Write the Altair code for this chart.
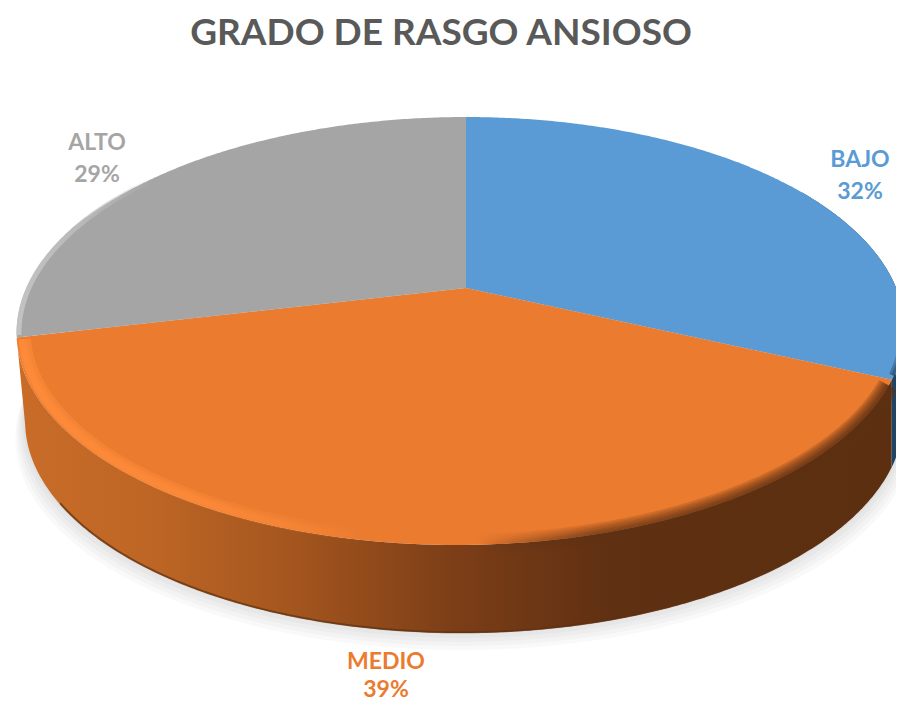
import math
import altair as alt
import pandas as pd

# ---- data
categories = ["BAJO", "MEDIO", "ALTO"]
values = [32, 39, 29]
percent_labels = ["32%", "39%", "29%"]
top_colors = ["#5b9bd5", "#eb7b2f", "#a5a5a5"]
label_colors = ["#5b9bd5", "#eb7b2f", "#a5a5a5"]
label_x = [860, 386, 97]
label_y1 = [160, 662, 143]
label_y2 = [192, 690, 175]

TOP = 70
CX, K = 466, 433
APEX_Y = 288
A, B, C = -141.3, 284, 0.2196
DEPTH, BASE_K = 88, 0.99

spans = []
acc = 0
total = sum(values)
for v in values:
    spans.append((acc / total * 360, (acc + v) / total * 360))
    acc += v


def pt(deg, s=1.0, base=False, dy=0, grow=1.0):
    t = math.radians(deg)
    X, Y = math.sin(t) * s, math.cos(t) * s
    w = C * Y + 1
    k = K * (BASE_K if base else 1) * grow
    xc = CX - 4.5 * (1 - Y) + (4 if base else 0)
    return (xc + k * X / w, (A * Y + B) / w + (DEPTH if base else 0) + dy)


def arc(a, b, **kw):
    n = max(2, int(abs(b - a) * 2))
    return [pt(a + (b - a) * i / n, **kw) for i in range(n + 1)]


def frame(pts):
    return pd.DataFrame({"x": [p[0] for p in pts], "y": [p[1] for p in pts], "i": range(len(pts))})


xs = alt.X("x:Q", scale=alt.Scale(domain=[8, 896], nice=False, zero=False), axis=None)
ys = alt.Y("y:Q", scale=alt.Scale(domain=[702, TOP], nice=False, zero=False), axis=None)


def shape(pts, **mark):
    mark.setdefault("strokeWidth", 0)
    return alt.Chart(frame(pts)).mark_line(interpolate="linear", **mark).encode(
        x=xs, y=ys, order="i:Q")


def grad(stops, vertical=False):
    return alt.LinearGradient(
        gradient="linear",
        stops=[alt.GradientStop(color=c, offset=o) for o, c in stops],
        x1=0, y1=0, x2=0 if vertical else 1, y2=1 if vertical else 0,
    )


def text(t, x, y, color, size):
    return alt.Chart(pd.DataFrame({"t": [t]})).mark_text(
        font="Lato", fontWeight="bold", fontSize=size, color=color, baseline="middle", align="center"
    ).encode(text="t:N", x=alt.value(x - 8), y=alt.value(y - TOP))


layers = []

# soft shadow under the disc
for d in (4, 8, 12, 16, 20):
    layers.append(shape(arc(0, 360, base=True, dy=d - 3, grow=1 + d / 900), fill="#000000", opacity=0.024))

# blue wall seen at the right edge
b0, b1 = spans[0]
layers.append(shape(arc(b1, 60) + arc(60, b1, base=True), fill="#1f4464"))

# orange wall
m0, m1 = spans[1]
wall = grad([(0, "#c96c28"), (.15, "#be6625"), (.32, "#a3551e"), (.5, "#7c3e17"), (.68, "#5f3012"), (1, "#5c2f11")])
layers.append(shape(arc(m0, m1) + arc(m1, m0, base=True), fill=wall))
layers.append(shape(arc(m0 + 25, m1 - 20, base=True, s=0.998), stroke="#5e3011", strokeWidth=2, opacity=.7))

# top faces
for (a, b), col in zip(spans, top_colors):
    apex = (CX, APEX_Y)
    layers.append(shape([apex] + arc(a, b), fill=col))

# grey rim bevel
g0, g1 = spans[2]
layers.append(shape(arc(g0 + 0.6, g0 + 50, s=0.995),
                    stroke=grad([(0, "#c2c2c2"), (.4, "#bababa"), (1, "rgba(190,190,190,0)")]), strokeWidth=5))

# blue rim darkening next to the boundary
for w in (10, 5):
    layers.append(shape(arc(b1 - 1, b1 - 12, s=1.0),
                        stroke=grad([(0, "rgba(31,68,100,0)"), (1, "rgba(31,68,100,.5)")], True),
                        strokeWidth=w))

# orange rim: highlight on the left, soft dark blur on the right
hi = [(0, "rgba(255,140,58,.55)"), (.5, "rgba(255,140,58,.4)"), (.8, "rgba(255,140,58,.2)"), (1, "rgba(255,140,58,0)")]
for s, w in ((0.984, 13), (0.987, 9), (0.989, 5)):
    layers.append(shape(arc(m1 - 0.6, 190, s=s), stroke=grad(hi), strokeWidth=w))

dark = [(0, "rgba(94,47,17,0)"), (.3, "rgba(94,47,17,.18)"), (1, "rgba(94,47,17,.26)")]
for w in (22, 18, 14, 10, 7, 4):
    layers.append(shape(arc(178, m0 + 1.5, s=1.0), stroke=grad(dark), strokeWidth=w))

# labels
for c, p, col, x, y1, y2 in zip(categories, percent_labels, label_colors, label_x, label_y1, label_y2):
    layers.append(text(c, x, y1, col, 23))
    layers.append(text(p, x, y2, col, 23))

chart = alt.layer(*layers).properties(
    width=888,
    height=632,
    padding={"left": 0, "right": 0, "top": TOP - 8, "bottom": 0},
    autosize=alt.AutoSizeParams(type="none"),
    title=alt.TitleParams("GRADO DE RASGO ANSIOSO", font="Lato", fontSize=37, fontWeight="bold",
                          color="#595959", anchor="middle", dx=-11, offset=17),
).configure_view(stroke=None)

chart.save("out.html", embed_options={"renderer": "svg", "actions": False})
